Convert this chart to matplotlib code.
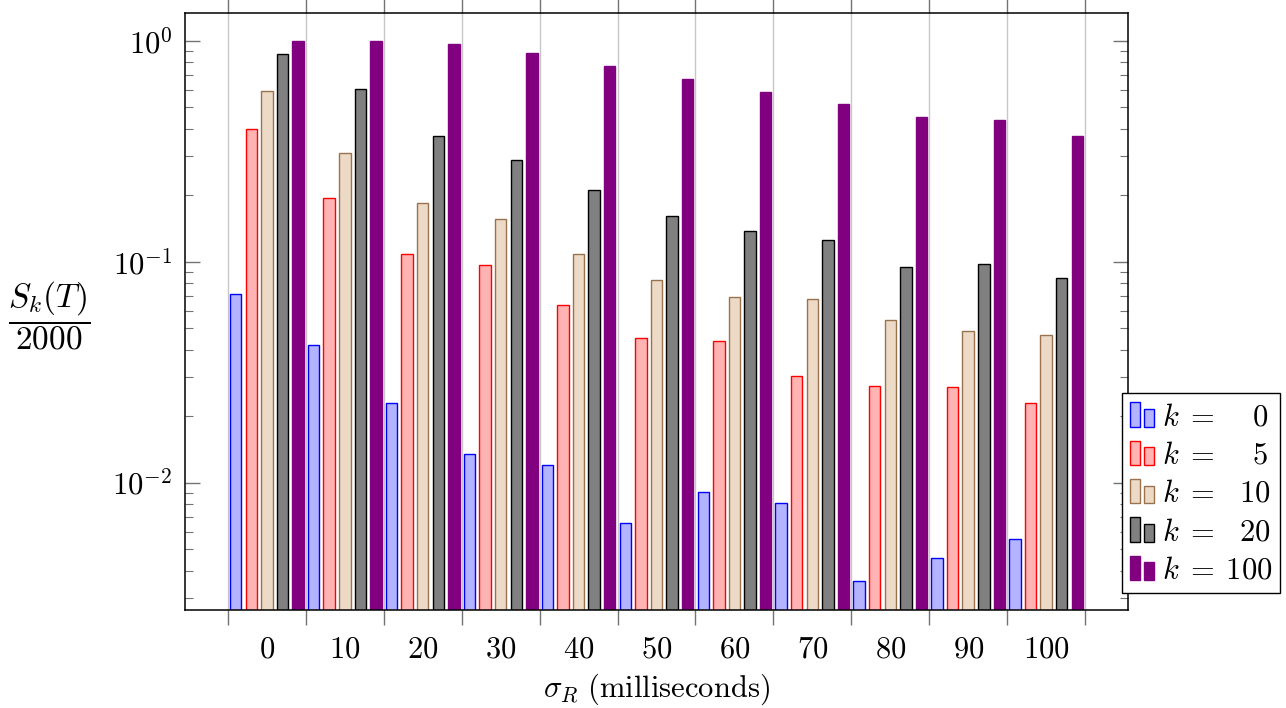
import matplotlib
matplotlib.use('Agg')
import matplotlib.pyplot as plt
from matplotlib.patches import Rectangle
from matplotlib.legend_handler import HandlerBase
from matplotlib.container import BarContainer
from matplotlib.ticker import LogLocator, NullFormatter

plt.rcParams['mathtext.fontset'] = 'cm'
plt.rcParams['font.family'] = 'DejaVu Serif'

# sigma_R in milliseconds
sigma = [0, 10, 20, 30, 40, 50, 60, 70, 80, 90, 100]
sigma_labels = ['$%d$' % s for s in sigma]
group_edges = [-5, 5, 15, 25, 35, 45, 55, 65, 75, 85, 95, 105]

# S_k(T)/2000 for each k
k_values = [0, 5, 10, 20, 100]
s_k0 = [0.0712, 0.0418, 0.0229, 0.0134, 0.0119, 0.00646, 0.00894, 0.00795, 0.00348, 0.00447, 0.00546]
s_k5 = [0.400, 0.195, 0.108, 0.0962, 0.0634, 0.0453, 0.0439, 0.0304, 0.0274, 0.0269, 0.0229]
s_k10 = [0.596, 0.311, 0.1855, 0.1565, 0.108, 0.0823, 0.0694, 0.0677, 0.0544, 0.0484, 0.0464]
s_k20 = [0.876, 0.604, 0.3715, 0.288, 0.211, 0.161, 0.138, 0.126, 0.0945, 0.0975, 0.0843]
s_k100 = [1.0, 1.0, 0.969, 0.879, 0.771, 0.675, 0.590, 0.519, 0.451, 0.439, 0.3715]
series = [s_k0, s_k5, s_k10, s_k20, s_k100]

fills = [(0.7, 0.7, 1.0), (1.0, 0.7, 0.7), (0.925, 0.85, 0.775), (0.5, 0.5, 0.5), (0.5, 0.0, 0.5)]
edges = ['blue', 'red', (0.6, 0.45, 0.3), 'black', (0.5, 0.0, 0.5)]
# right-align the numbers in the legend (a digit is half an em in CM)
pads = [r'\enspace\enspace', r'\enspace\enspace', r'\enspace', r'\enspace', '']
legend_labels = [r'$k\;=\:%s%d$' % (p, k) for p, k in zip(pads, k_values)]


class TwoBars(HandlerBase):
    # pgfplots style ybar legend: two small bars, first one taller
    def create_artists(self, legend, orig_handle, xdescent, ydescent,
                       width, height, fontsize, trans):
        p = orig_handle.patches[0]
        w = width * 0.42
        r1 = Rectangle((-xdescent, -ydescent), w, height,
                       facecolor=p.get_facecolor(), edgecolor=p.get_edgecolor(),
                       linewidth=1.0, transform=trans)
        r2 = Rectangle((-xdescent + width - w, -ydescent), w, height * 0.72,
                       facecolor=p.get_facecolor(), edgecolor=p.get_edgecolor(),
                       linewidth=1.0, transform=trans)
        return [r1, r2]


fig = plt.figure(figsize=(12.86, 7.08), dpi=100)
ax = fig.add_axes([0.1439, 0.1384, 0.8771 - 0.1439, 0.9816 - 0.1384])

offsets = [-4, -2, 0, 2, 4]
bars = []
for vals, off, fc, ec in zip(series, offsets, fills, edges):
    b = ax.bar([s + off for s in sigma], vals, width=1.47, bottom=1e-4,
               facecolor=fc, edgecolor=ec, linewidth=1.0, zorder=3)
    bars.append(b)

ax.set_yscale('log')
ax.set_ylim(0.00265, 1.339)
ax.set_xlim(-10.5, 110.5)

ax.set_yticks([1e-2, 1e-1, 1], labels=[r'$10^{-2}$', r'$10^{-1}$', r'$10^{0}$'])
ax.yaxis.set_minor_locator(LogLocator(base=10, subs=range(2, 10)))
ax.yaxis.set_minor_formatter(NullFormatter())
ax.tick_params(axis='y', which='both', direction='in', left=True, right=True,
               color='0.45', labelsize=22, pad=9)
ax.tick_params(axis='y', which='major', length=11, width=1.0)
ax.tick_params(axis='y', which='minor', length=6, width=0.8)

ax.set_xticks(group_edges, labels=[''] * len(group_edges))
ax.set_xticks(sigma, labels=sigma_labels, minor=True)
ax.tick_params(axis='x', which='major', direction='out', top=True, bottom=True,
               length=11, width=1.0, color='0.45')
ax.tick_params(axis='x', which='minor', length=0, labelsize=22, pad=17)
ax.grid(True, axis='x', which='major', color='0.78', linewidth=1.0, zorder=0)
ax.set_axisbelow(True)

for sp in ax.spines.values():
    sp.set_linewidth(1.1)
    sp.set_zorder(4)

ax.set_xlabel(r'$\sigma_R\ \mathrm{(milliseconds)}$', fontsize=22, labelpad=5)
fig.text(49 / 1286, 1 - 316 / 708, r'$\dfrac{S_k(T)}{2000}$', fontsize=24,
         ha='center', va='center')

leg = ax.legend(bars, legend_labels, handler_map={BarContainer: TwoBars()},
                loc='lower left', bbox_to_anchor=(1122 / 1286, 1 - 593 / 708),
                bbox_transform=fig.transFigure, borderaxespad=0, fontsize=22,
                handlelength=0.8, handleheight=0.85, handletextpad=0.25,
                labelspacing=0.24, borderpad=0.25, fancybox=False,
                edgecolor='black', framealpha=1)
leg.get_frame().set_linewidth(1.0)

fig.savefig('out.png', dpi=100)
